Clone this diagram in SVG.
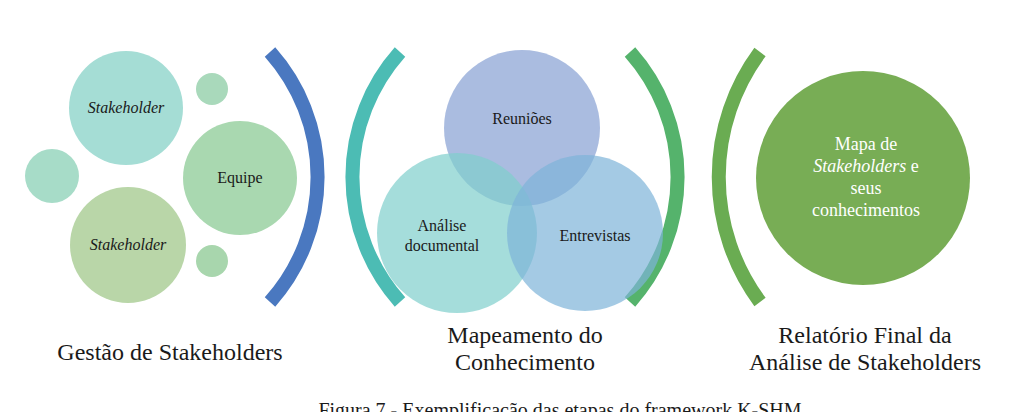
<svg xmlns="http://www.w3.org/2000/svg" width="1024" height="412" viewBox="0 0 1024 412">
<style>
text{font-family:"Liberation Serif","DejaVu Serif",serif;fill:#1a1a1a}
.lbl{font-size:24px;text-anchor:middle}
.in{font-size:16px;text-anchor:middle}
.w{fill:#fff;text-anchor:middle;font-size:18px}
.arc{fill:none;stroke-width:14}
</style>
<rect width="1024" height="412" fill="#fff"/>
<g id="stakeholder1"><circle cx="126" cy="108" r="57" fill="#a5ddd5"/><text class="in" x="126" y="113" font-style="italic" font-size="14">Stakeholder</text></g>
<g id="small1"><circle cx="212" cy="89" r="16" fill="#a9d9bb"/></g>
<g id="small2"><circle cx="52" cy="176" r="27" fill="#a7dcc8"/></g>
<g id="equipe"><circle cx="240" cy="178" r="57" fill="#a9d8b0"/><text class="in" x="240" y="183" font-size="15">Equipe</text></g>
<g id="stakeholder2"><circle cx="128" cy="245" r="58" fill="#b9d6a8"/><text class="in" x="128" y="250" font-style="italic" font-size="14">Stakeholder</text></g>
<g id="small3"><circle cx="212" cy="261" r="16" fill="#a8d6ad"/></g>
<g id="connectors">
<path class="arc" d="M270 52 A188 188 0 0 1 270 302" stroke="#4a78c0"/>
<path class="arc" d="M400 52 A188 188 0 0 0 400 302" stroke="#4cbcb4"/>
<path class="arc" d="M630 52 A188 188 0 0 1 630 302" stroke="#55b36c"/>
<path class="arc" d="M760 52 A210 210 0 0 0 760 302" stroke="#6aac52"/>
</g>
<g id="venn">
<g id="reunioes"><circle cx="522" cy="128" r="78" fill="#8ea6d6" fill-opacity="0.75"/></g>
<g id="analise"><circle cx="457" cy="233" r="80" fill="#7fcfcc" fill-opacity="0.7"/></g>
<g id="entrevistas"><circle cx="585" cy="233" r="78" fill="#7eb3d8" fill-opacity="0.7"/></g>
<text class="in" x="522" y="124">Reuniões</text>
<text class="in" x="442" y="231">Análise</text>
<text class="in" x="442" y="251">documental</text>
<text class="in" x="595" y="241">Entrevistas</text>
</g>
<g id="mapa"><circle cx="863" cy="178" r="107" fill="#78ad55"/>
<text class="w" x="866" y="150">Mapa de</text>
<text class="w" x="866" y="172"><tspan font-style="italic">Stakeholders</tspan> e</text>
<text class="w" x="866" y="194">seus</text>
<text class="w" x="866" y="216">conhecimentos</text>
</g>
<text class="lbl" x="170" y="360">Gestão de Stakeholders</text>
<text class="lbl" x="525" y="343">Mapeamento do</text>
<text class="lbl" x="525" y="370">Conhecimento</text>
<text class="lbl" x="865" y="343">Relatório Final da</text>
<text class="lbl" x="865" y="370">Análise de Stakeholders</text>
<text x="560" y="417" font-size="20" text-anchor="middle">Figura 7 - Exemplificação das etapas do framework K-SHM</text>
</svg>
